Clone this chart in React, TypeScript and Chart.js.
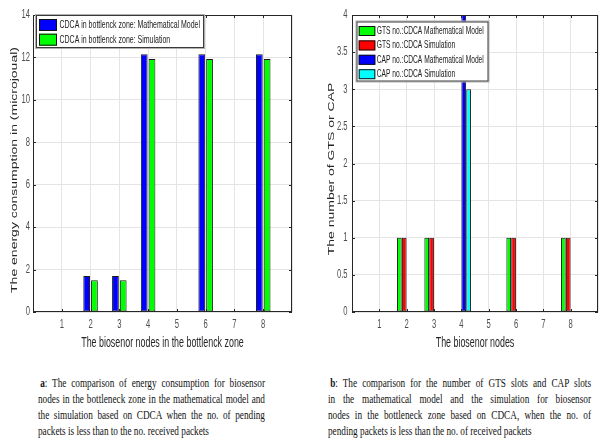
import React, { useEffect, useRef } from 'react';
import { Chart, registerables } from 'chart.js';

Chart.register(...registerables);

// ---------- data ----------
const nodes = ['1', '2', '3', '4', '5', '6', '7', '8'];

const energyModel = [0, 1.7, 1.7, 12.15, 0, 12.15, 0, 12.15];
const energySim = [0, 1.5, 1.5, 11.93, 0, 11.93, 0, 11.93];

const gtsModel = [0, 1, 1, 0, 0, 1, 0, 1];
const gtsSim = [0, 1, 1, 0, 0, 1, 0, 1];
const capModel = [0, 0, 0, 4, 0, 0, 0, 0];
const capSim = [0, 0, 0, 3, 0, 0, 0, 0];

const energyYMax = 14;
const energyYStep = 2;
const slotsYMax = 4;
const slotsYStep = 0.5;

const energyXTitle = 'The biosenor nodes in the bottlenck zone';
const energyYTitle = 'The energy consumption in (microjoual)';
const slotsXTitle = 'The biosenor nodes';
const slotsYTitle = 'The number of GTS or CAP';

const captionA = [
  'The comparison of energy consumption for biosensor',
  'nodes in the bottleneck zone in the mathematical model and',
  'the simulation based on CDCA when the no. of pending',
  'packets is less than to the no. received packets',
];
const captionB = [
  'The comparison for the number of GTS slots and CAP slots',
  'in the mathematical model and the simulation for biosensor',
  'nodes in the bottleneck zone based on CDCA, when the no. of',
  'pending packets is less than the no. of received packets',
];

// ---------- styling ----------
const SANS = '"Liberation Sans", Arial, Helvetica, sans-serif';
const SX = 0.635; // horizontal squeeze of the original figure

type Series = { label: string; values: number[]; color: string; edge: string };

type Spec = {
  w: number; h: number;
  left: number; right: number; top: number; bottom: number;
  yMax: number; yStep: number;
  catPct: number; barPct: number;
  series: Series[];
  xTitle: string; yTitle: string;
  yTitleX: number; yTitleY: number;
  tickGap: number;
  legend: { x: number; y: number; w: number; h: number; sx: number; sw: number; sh: number; row0: number; dy: number; tx: number; font: number };
};

function drawText(ctx: CanvasRenderingContext2D, s: string, x: number, y: number, font: string, color: string, align: CanvasTextAlign, rot = false) {
  ctx.save();
  ctx.translate(x, y);
  if (rot) {
    ctx.rotate(-Math.PI / 2);
    ctx.scale(1, SX);
  } else {
    ctx.scale(SX, 1);
  }
  ctx.font = font;
  ctx.fillStyle = color;
  ctx.textAlign = align;
  ctx.textBaseline = 'middle';
  ctx.fillText(s, 0, 0);
  ctx.restore();
}

function decorPlugin(spec: Spec) {
  return {
    id: 'decor',
    afterDraw(chart: any) {
      const ctx: CanvasRenderingContext2D = chart.ctx;
      const a = chart.chartArea;
      const xs = chart.scales.x;
      const ys = chart.scales.y;
      ctx.save();
      // box
      ctx.strokeStyle = '#262626';
      ctx.lineWidth = 1;
      ctx.strokeRect(Math.round(a.left) + 0.5, Math.round(a.top) + 0.5, Math.round(a.right - a.left) - 1, Math.round(a.bottom - a.top) - 1);
      // inner tick marks
      ctx.beginPath();
      ys.ticks.forEach((t: any) => {
        const py = Math.round(ys.getPixelForValue(t.value)) + 0.5;
        ctx.moveTo(a.left, py); ctx.lineTo(a.left + 3, py);
        ctx.moveTo(a.right, py); ctx.lineTo(a.right - 3, py);
      });
      xs.ticks.forEach((t: any, i: number) => {
        if (!chart.data.labels[i]) return;
        const px = Math.round(xs.getPixelForTick(i)) + 0.5;
        ctx.moveTo(px, a.bottom); ctx.lineTo(px, a.bottom - 3);
        ctx.moveTo(px, a.top); ctx.lineTo(px, a.top + 3);
      });
      ctx.stroke();
      // tick labels
      const tickFont = `12px ${SANS}`;
      ys.ticks.forEach((t: any) => {
        const py = ys.getPixelForValue(t.value);
        drawText(ctx, String(t.value), a.left - spec.tickGap, py, tickFont, '#4d4d4d', 'right');
      });
      (chart.data.labels as string[]).forEach((lab, i) => {
        if (!lab) return;
        drawText(ctx, lab, xs.getPixelForTick(i), a.bottom + 12.5, tickFont, '#4d4d4d', 'center');
      });
      // axis titles
      const titleFont = `14px ${SANS}`;
      drawText(ctx, spec.xTitle, (a.left + a.right) / 2, a.bottom + 31, titleFont, '#262626', 'center');
      drawText(ctx, spec.yTitle, spec.yTitleX, spec.yTitleY, titleFont, '#262626', 'center', true);
      // legend
      const L = spec.legend;
      ctx.fillStyle = '#ffffff';
      ctx.fillRect(L.x, L.y, L.w, L.h);
      ctx.strokeStyle = '#b0b0b0';
      ctx.strokeRect(L.x - 0.5, L.y - 0.5, L.w + 1, L.h + 1);
      ctx.strokeStyle = '#3a3a3a';
      ctx.strokeRect(L.x + 0.5, L.y + 0.5, L.w - 1, L.h - 1);
      chart.data.datasets.forEach((ds: any, i: number) => {
        const cy = L.row0 + i * L.dy;
        ctx.fillStyle = ds.backgroundColor;
        ctx.fillRect(L.sx, cy - L.sh / 2, L.sw, L.sh);
        ctx.strokeStyle = '#111';
        ctx.strokeRect(L.sx + 0.5, cy - L.sh / 2 + 0.5, L.sw - 1, L.sh - 1);
        drawText(ctx, ds.label, L.tx, cy, `${L.font}px ${SANS}`, '#1a1a1a', 'left');
      });
      ctx.restore();
    },
  };
}

function buildConfig(spec: Spec): any {
  const labels = ['', ...nodes, ''];
  return {
    type: 'bar',
    data: {
      labels,
      datasets: spec.series.map((s) => ({
        label: s.label,
        data: [null, ...s.values, null],
        backgroundColor: s.color,
        borderColor: s.edge,
        borderWidth: 1,
        borderSkipped: false,
        categoryPercentage: spec.catPct,
        barPercentage: spec.barPct,
      })),
    },
    options: {
      responsive: false,
      maintainAspectRatio: false,
      animation: false,
      devicePixelRatio: 1,
      layout: { padding: { top: spec.top, right: spec.w - spec.right, left: 0, bottom: 0 } },
      plugins: { legend: { display: false }, tooltip: { enabled: false }, title: { display: false } },
      scales: {
        x: {
          type: 'category',
          offset: false,
          grid: { offset: false, color: '#e4e4e4', drawTicks: false, lineWidth: 1 },
          border: { display: false },
          ticks: { display: false },
          afterFit: (s: any) => { s.height = spec.h - spec.bottom; },
        },
        y: {
          min: 0,
          max: spec.yMax,
          ticks: { display: false, stepSize: spec.yStep },
          grid: { color: '#e4e4e4', drawTicks: false, lineWidth: 1 },
          border: { display: false },
          afterFit: (s: any) => { s.width = spec.left; },
        },
      },
    },
    plugins: [decorPlugin(spec)],
  };
}

const energySpec: Spec = {
  w: 300, h: 356, left: 33, right: 292, top: 15, bottom: 312,
  yMax: energyYMax, yStep: energyYStep,
  catPct: 0.54, barPct: 0.87,
  series: [
    { label: 'CDCA in bottlenck zone: Mathematical Model', values: energyModel, color: '#0000ff', edge: '#1a1a1a' },
    { label: 'CDCA in bottlenck zone: Simulation', values: energySim, color: '#00ff00', edge: '#1a1a1a' },
  ],
  xTitle: energyXTitle, yTitle: energyYTitle, yTitleX: 15, yTitleY: 170,
  tickGap: 3,
  legend: { x: 36, y: 15, w: 168, h: 33, sx: 39, sw: 18, sh: 12, row0: 25, dy: 14.7, tx: 59.5, font: 11 },
};

const slotsSpec: Spec = {
  w: 303, h: 356, left: 52, right: 298, top: 15, bottom: 312,
  yMax: slotsYMax, yStep: slotsYStep,
  catPct: 0.71, barPct: 0.97,
  series: [
    { label: 'GTS no.:CDCA Mathematical Model', values: gtsModel, color: '#00ff00', edge: '#1a1a1a' },
    { label: 'GTS no.:CDCA Simulation', values: gtsSim, color: '#ff0000', edge: '#1a1a1a' },
    { label: 'CAP no.:CDCA Mathematical Model', values: capModel, color: '#0000ff', edge: '#1a1a1a' },
    { label: 'CAP no.:CDCA Simulation', values: capSim, color: '#00ffff', edge: '#1a1a1a' },
  ],
  xTitle: slotsXTitle, yTitle: slotsYTitle, yTitleX: 31.5, yTitleY: 169,
  tickGap: 4.5,
  legend: { x: 56.5, y: 21.5, w: 132, h: 60, sx: 58.7, sw: 16.6, sh: 10, row0: 31, dy: 14.4, tx: 76.7, font: 10.5 },
};

function BarPanel({ spec, x }: { spec: Spec; x: number }) {
  const ref = useRef<HTMLCanvasElement | null>(null);
  useEffect(() => {
    if (!ref.current) return;
    const chart = new Chart(ref.current, buildConfig(spec));
    return () => chart.destroy();
  }, [spec]);
  return (
    <canvas
      ref={ref}
      width={spec.w}
      height={spec.h}
      style={{ position: 'absolute', left: x, top: 0, width: spec.w, height: spec.h }}
    />
  );
}

function Caption({ tag, lines, x, w }: { tag: string; lines: string[]; x: number; w: number }) {
  const s = 0.71;
  return (
    <div
      style={{
        position: 'absolute', left: x, top: 375, width: w / s,
        transform: `scaleX(${s})`, transformOrigin: 'left top',
        fontFamily: '"Liberation Serif", "Times New Roman", serif', fontSize: 13, lineHeight: '16px', color: '#111',
      }}
    >
      {lines.map((ln, i) => (
        <div key={i} style={{ textAlign: 'justify', textAlignLast: i < lines.length - 1 ? 'justify' : 'left', paddingLeft: i === 0 ? 3 : 0 } as any}>
          {i === 0 ? (<><b>{tag}</b>{': ' + ln}</>) : ln}
        </div>
      ))}
    </div>
  );
}

export default function App() {
  return (
    <div style={{ position: 'absolute', left: 0, top: 0, width: 603, height: 446, background: '#fff', overflow: 'hidden' }}>
      <BarPanel spec={energySpec} x={0} />
      <BarPanel spec={slotsSpec} x={300} />
      <Caption tag="a" lines={captionA} x={38} w={227} />
      <Caption tag="b" lines={captionB} x={328} w={263} />
    </div>
  );
}
